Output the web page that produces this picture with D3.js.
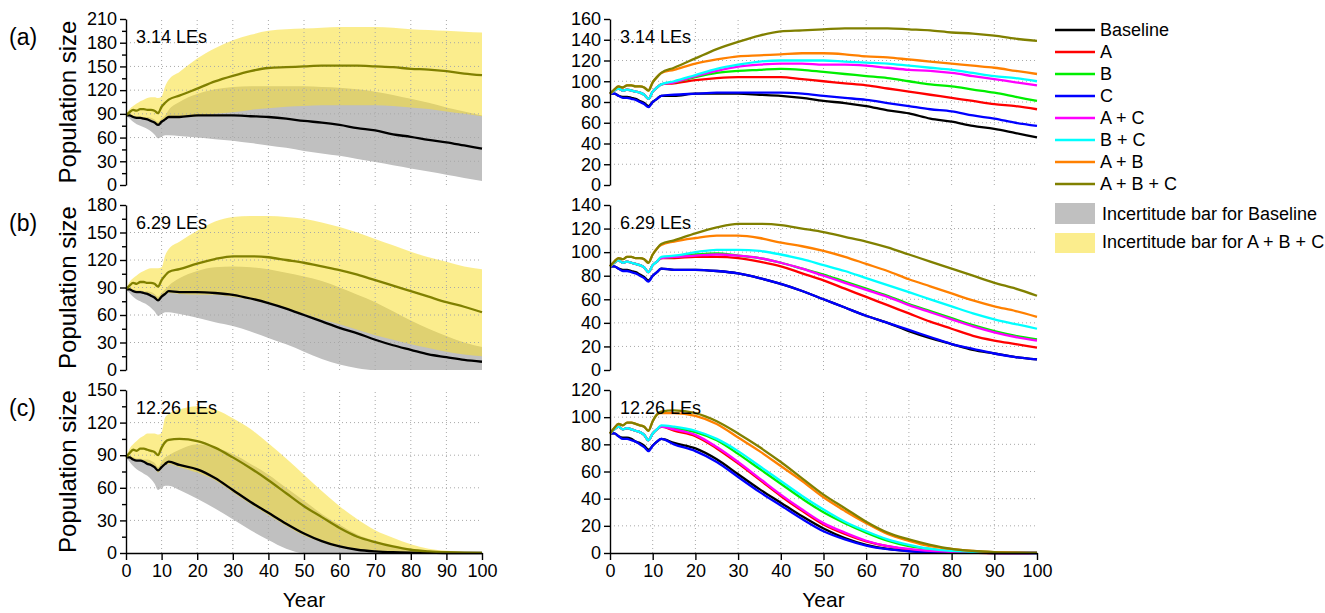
<!DOCTYPE html>
<html><head><meta charset="utf-8">
<script src="https://cdn.jsdelivr.net/npm/d3@7/dist/d3.min.js"></script>
<style>
html,body{margin:0;padding:0;background:#fff;}
svg text{font-family:"Liberation Sans",Arial,sans-serif;fill:#000;}
</style></head>
<body><svg id="chart" width="1325" height="613"></svg>
<script>
// ---------- DATA ----------
const years = [0,1,2,3,4,5,6,7,8,9,10,11,12,15,20,25,30,35,40,45,50,55,60,65,70,75,80,85,90,95,100];
const seriesNames = ["Baseline","A","B","C","A + C","B + C","A + B","A + B + C"];
const seriesColors = ["#000000","#ff0000","#00ee00","#0000ff","#ff00ff","#00ffff","#ff8000","#808000"];
const bandNames = ["Incertitude bar for Baseline","Incertitude bar for A + B + C"];
const xTicks = [0,10,20,30,40,50,60,70,80,90,100];
const panelLetters = ["(a)","(b)","(c)"];
const leLabels = ["3.14 LEs","6.29 LEs","12.26 LEs"];
const leftYTicks = [[0,30,60,90,120,150,180,210],[0,30,60,90,120,150,180],[0,30,60,90,120,150]];
const rightYTicks = [[0,20,40,60,80,100,120,140,160],[0,20,40,60,80,100,120,140],[0,20,40,60,80,100,120]];

// panel (a) 3.14 LEs
const a_Baseline = [88,88,86,85,85,84,83,81,79,76,80,83,86, 86,88,88,88,87,86,84,81,79,76,72,69,64,61,57,54,50,46];
const a_A   = [88,91,93,91,92,91,90,89,87,83,90,94,97, 98,101,103,104,104,104,102,100,98,96,93,90,87,84,81,78,76,73];
const a_B   = [88,91,93,91,92,91,90,89,87,83,90,94,97, 99,104,108,110,111,112,111,109,107,105,103,100,97,95,92,89,85,81];
const a_C   = [88,88,86,84,84,83,82,80,78,75,80,83,86, 87,88,89,89,89,89,88,86,84,82,79,76,73,71,67,64,60,57];
const a_AC  = [88,91,93,91,92,91,90,89,87,83,90,94,97, 99,105,110,114,116,117,117,116,116,115,113,111,110,108,105,102,99,96];
const a_BC  = [88,91,93,91,92,91,90,89,87,83,90,94,97, 100,106,112,116,119,120,120,120,119,118,117,115,113,111,108,105,103,100];
const a_AB  = [88,92,95,94,96,96,95,95,94,91,99,104,108, 111,117,121,124,125,126,127,127,126,124,123,121,119,117,115,113,110,107];
const a_ABC = [88,92,95,94,96,96,95,95,94,91,99,104,108, 113,122,131,138,144,148,149,150,151,151,151,150,149,147,146,144,141,139];
const a_grayUp = [88,89,88,87,87,86,86,85,83,80,84,88,95, 105,115,121,124,125,125,125,125,124,123,121,118,114,109,104,98,93,88];
const a_grayLo = [88,84,80,77,75,73,71,68,64,59,61,63,63, 62,60,58,56,53,50,47,43,40,37,33,29,25,21,17,13,9,5];
const a_yelUp  = [88,96,100,103,106,108,110,111,111,110,112,125,133, 143,160,173,183,190,195,197,198,199,200,200,200,199,197,196,195,194,193];
const a_yelLo  = [88,88,87,86,86,85,84,83,81,77,80,83,85, 86,87,90,92,95,97,99,100,101,101,101,101,100,98,96,93,90,87];

// panel (b) 6.29 LEs
const b_Baseline = [88,88,86,85,85,84,83,81,79,76,80,83,86, 85,85,84,82,78,73,67,60,53,46,40,33,27,22,17,14,11,9];
const b_A   = [88,91,93,91,92,91,90,89,87,83,89,92,95, 95,96,96,95,92,88,82,76,69,62,55,48,41,35,29,25,22,19];
const b_B   = [88,91,93,91,92,91,90,89,87,83,89,92,95, 96,98,99,97,95,91,86,81,75,69,63,56,50,44,38,33,29,26];
const b_C   = [88,88,86,84,84,83,82,80,78,75,80,83,86, 85,85,84,82,78,73,67,60,53,46,40,34,28,22,18,14,11,9];
const b_AC  = [88,91,93,91,92,91,90,89,87,83,89,92,95, 96,97,98,97,95,91,86,80,74,68,62,55,49,43,37,32,28,25];
const b_BC  = [88,91,93,91,92,91,90,89,87,83,89,92,96, 97,100,102,102,101,98,94,89,84,78,72,66,60,54,48,43,39,35];
const b_AB  = [88,92,95,94,96,96,95,95,94,91,98,103,106, 109,112,114,114,112,108,105,101,96,90,84,77,71,65,59,54,50,45];
const b_ABC = [88,92,95,94,96,96,95,95,94,91,98,103,107, 110,116,121,124,124,123,120,117,113,109,104,98,92,86,80,74,69,63];
const b_grayUp = [88,89,88,87,87,86,86,85,83,80,84,88,92, 100,108,112,113,112,110,106,102,97,90,82,74,64,54,45,37,30,25];
const b_grayLo = [88,84,80,77,75,73,71,68,64,59,61,63,63, 61,57,52,48,42,35,28,20,12,6,2,0,0,0,0,0,0,0];
const b_yelUp  = [88,96,100,103,106,108,110,111,111,111,112,125,132, 140,152,162,167,168,168,167,165,161,156,150,143,136,129,123,118,113,110];
const b_yelLo  = [88,88,87,86,86,85,84,83,81,75,80,83,84, 83,82,82,80,77,72,67,61,55,50,44,38,33,28,24,20,17,15];

// panel (c) 12.26 LEs
const c_Baseline = [88,88,86,85,85,84,82,81,79,76,79,82,84, 81,77,69,58,47,37,27,18,11,6,3,1.5,0.7,0.3,0.1,0,0,0];
const c_A   = [88,91,93,91,92,91,90,89,87,83,88,91,93, 90,86,77,66,54,42,31,21,14,8.5,5,2.5,1.2,0.5,0.2,0,0,0];
const c_B   = [88,91,93,91,92,91,90,89,87,83,88,91,93, 92,89,83,73,62,51,40,30,22,15,9,5,3,1.3,0.5,0.2,0,0];
const c_C   = [88,88,86,84,84,83,82,80,78,75,79,82,84, 80,75,67,56,45,35,25,16,10,5.5,2.8,1.3,0.6,0.2,0.1,0,0,0];
const c_AC  = [88,91,93,91,92,91,90,89,87,83,88,91,93, 91,87,78,67,55,43,32,22,15,9,5,3,1.5,0.7,0.3,0.1,0,0];
const c_BC  = [88,91,93,91,92,91,90,89,87,83,88,91,94, 93,90,84,75,64,53,42,32,23,16,10,6,3,1.5,0.7,0.3,0.1,0];
const c_AB  = [88,92,95,94,96,96,95,94,93,90,97,102,103, 103,101,95,85,75,64,53,41,31,22,14,9,5,3,1.5,0.6,0.2,0.1];
const c_ABC = [88,92,95,94,96,96,95,94,93,90,97,102,104, 105,103,97,88,78,67,55,43,33,23,15,10,6,3,1.5,0.7,0.3,0.1];
const c_grayUp = [88,89,88,87,87,86,86,85,83,79,84,88,90, 95,100,97,91,82,72,60,48,36,26,17,11,6,3,1,0.3,0,0];
const c_grayLo = [88,84,80,77,75,73,71,68,64,58,60,62,62, 58,50,41,31,21,12,4,0,0,0,0,0,0,0,0,0,0,0];
const c_yelUp  = [88,96,100,103,106,108,110,110,110,109,111,125,128, 132,135,132,124,114,101,87,72,57,43,31,21,14,8,4,2,1,0];
const c_yelLo  = [88,88,87,86,86,85,83,82,80,74,78,81,82, 79,74,67,56,45,35,25,16,10,5,2.5,1,0.4,0.1,0,0,0,0];

const panelSeries = [
  [a_Baseline,a_A,a_B,a_C,a_AC,a_BC,a_AB,a_ABC],
  [b_Baseline,b_A,b_B,b_C,b_AC,b_BC,b_AB,b_ABC],
  [c_Baseline,c_A,c_B,c_C,c_AC,c_BC,c_AB,c_ABC]
];
const panelBands = [
  {grayUp:a_grayUp,grayLo:a_grayLo,yelUp:a_yelUp,yelLo:a_yelLo},
  {grayUp:b_grayUp,grayLo:b_grayLo,yelUp:b_yelUp,yelLo:b_yelLo},
  {grayUp:c_grayUp,grayLo:c_grayLo,yelUp:c_yelUp,yelLo:c_yelLo}
];

// ---------- LAYOUT ----------
const svg = d3.select("#chart");
const FONT_TICK = 18;
const rows = [{top:19,bottom:185},{top:205,bottom:370},{top:390,bottom:553}];
const leftX = d3.scaleLinear().domain([0,100]).range([126,482]);
const rightX = d3.scaleLinear().domain([0,100]).range([610,1037]);
const GRAY = "#c0c0c0", YEL = "#f8de30", YEL_OP = 0.55;

function drawGrid(g, x, y, yTicks){
  const top = y.range()[1], bot = y.range()[0];
  xTicks.filter(t=>t>0 && t<100).forEach(t=>{
    g.append("line").attr("x1",x(t)).attr("x2",x(t)).attr("y1",bot).attr("y2",top)
      .attr("stroke","#a8a8a8").attr("stroke-width",1).attr("stroke-dasharray","1,3");
  });
  yTicks.slice(1,-1).forEach(t=>{
    g.append("line").attr("x1",x(0)).attr("x2",x(100)).attr("y1",y(t)).attr("y2",y(t))
      .attr("stroke","#a8a8a8").attr("stroke-width",1).attr("stroke-dasharray","1,3");
  });
}

function drawYAxis(g, x, y, ticks, minor){
  const ax = g.append("g").attr("transform",`translate(${x(0)},0)`)
    .call(d3.axisLeft(y).tickValues(ticks).tickSize(6).tickSizeOuter(0).tickPadding(3));
  ax.attr("font-family",null).attr("font-size",null);
  ax.select(".domain").attr("stroke","#000").attr("stroke-width",1.4);
  ax.selectAll(".tick line").attr("stroke","#000").attr("stroke-width",1.4);
  ax.selectAll("text").style("font-size",FONT_TICK+"px");
  if(minor){
    const step = ticks[1]-ticks[0];
    const mins = ticks.slice(0,-1).map(t=>t+step/2);
    const mx = g.append("g").attr("transform",`translate(${x(0)},0)`)
      .call(d3.axisLeft(y).tickValues(mins).tickSize(4).tickFormat(""));
    mx.select(".domain").remove();
    mx.selectAll(".tick line").attr("stroke","#000").attr("stroke-width",1.4);
  }
}

function drawXAxis(g, x, y){
  const ax = g.append("g").attr("transform",`translate(0,${y(0)})`)
    .call(d3.axisBottom(x).tickValues(xTicks).tickSize(7).tickSizeOuter(0).tickPadding(4));
  ax.attr("font-family",null).attr("font-size",null);
  ax.select(".domain").attr("stroke","#000").attr("stroke-width",1.4);
  ax.selectAll(".tick line").attr("stroke","#000").attr("stroke-width",1.4);
  ax.selectAll("text").style("font-size",FONT_TICK+"px");
}

rows.forEach((r,i)=>{
  const yL = d3.scaleLinear().domain([0,leftYTicks[i][leftYTicks[i].length-1]]).range([r.bottom,r.top]);
  const yR = d3.scaleLinear().domain([0,rightYTicks[i][rightYTicks[i].length-1]]).range([r.bottom,r.top]);
  const bands = panelBands[i];
  const series = panelSeries[i];

  // ----- left panel -----
  const gL = svg.append("g");
  const area = (up,lo)=>d3.area().x((d,k)=>leftX(years[k])).y0((d,k)=>yL(lo[k])).y1((d,k)=>yL(up[k])).curve(d3.curveMonotoneX);
  gL.append("path").datum(years).attr("d",area(bands.grayUp,bands.grayLo)).attr("fill",GRAY);
  gL.append("path").datum(years).attr("d",area(bands.yelUp,bands.yelLo)).attr("fill",YEL).attr("fill-opacity",YEL_OP);
  drawGrid(gL,leftX,yL,leftYTicks[i]);
  const lineL = d3.line().x((d,k)=>leftX(years[k])).y(d=>yL(d)).curve(d3.curveMonotoneX);
  gL.append("path").datum(series[0]).attr("d",lineL).attr("fill","none").attr("stroke",seriesColors[0]).attr("stroke-width",2.3);
  gL.append("path").datum(series[7]).attr("d",lineL).attr("fill","none").attr("stroke",seriesColors[7]).attr("stroke-width",2.3);
  drawYAxis(gL,leftX,yL,leftYTicks[i],true);
  if(i===2) drawXAxis(gL,leftX,yL);

  // ----- right panel -----
  const gR = svg.append("g");
  drawGrid(gR,rightX,yR,rightYTicks[i]);
  const lineR = d3.line().x((d,k)=>rightX(years[k])).y(d=>yR(d)).curve(d3.curveMonotoneX);
  series.forEach((s,k)=>{
    gR.append("path").datum(s).attr("d",lineR).attr("fill","none").attr("stroke",seriesColors[k]).attr("stroke-width",2.3);
  });
  drawYAxis(gR,rightX,yR,rightYTicks[i],false);
  if(i===2) drawXAxis(gR,rightX,yR);

  // labels
  svg.append("text").attr("x",9).attr("y",r.top+26).style("font-size","23px").text(panelLetters[i]);
  svg.append("text").attr("transform",`translate(76,${(r.top+r.bottom)/2}) rotate(-90)`)
    .attr("text-anchor","middle").style("font-size","24px").text("Population size");
  svg.append("text").attr("x",leftX(0)+10).attr("y",r.top+24).style("font-size","18px").text(leLabels[i]);
  svg.append("text").attr("x",rightX(0)+10).attr("y",r.top+24).style("font-size","18px").text(leLabels[i]);
});

svg.append("text").attr("x",(leftX(0)+leftX(100))/2).attr("y",607).attr("text-anchor","middle").style("font-size","21px").text("Year");
svg.append("text").attr("x",(rightX(0)+rightX(100))/2).attr("y",607).attr("text-anchor","middle").style("font-size","21px").text("Year");

// ---------- LEGEND ----------
const lg = svg.append("g");
seriesNames.forEach((n,k)=>{
  const yy = 30 + k*22;
  lg.append("line").attr("x1",1055).attr("x2",1095).attr("y1",yy).attr("y2",yy)
    .attr("stroke",seriesColors[k]).attr("stroke-width",2.4);
  lg.append("text").attr("x",1100).attr("y",yy).attr("dy","0.36em").style("font-size","18px").text(n);
});
lg.append("rect").attr("x",1055).attr("y",203).attr("width",40).attr("height",21).attr("fill",GRAY);
lg.append("text").attr("x",1102).attr("y",214).attr("dy","0.36em").style("font-size","18px").text(bandNames[0]);
lg.append("rect").attr("x",1055).attr("y",233).attr("width",40).attr("height",20).attr("fill",YEL).attr("fill-opacity",YEL_OP);
lg.append("text").attr("x",1102).attr("y",242).attr("dy","0.36em").style("font-size","18px").text(bandNames[1]);
</script></body></html>
